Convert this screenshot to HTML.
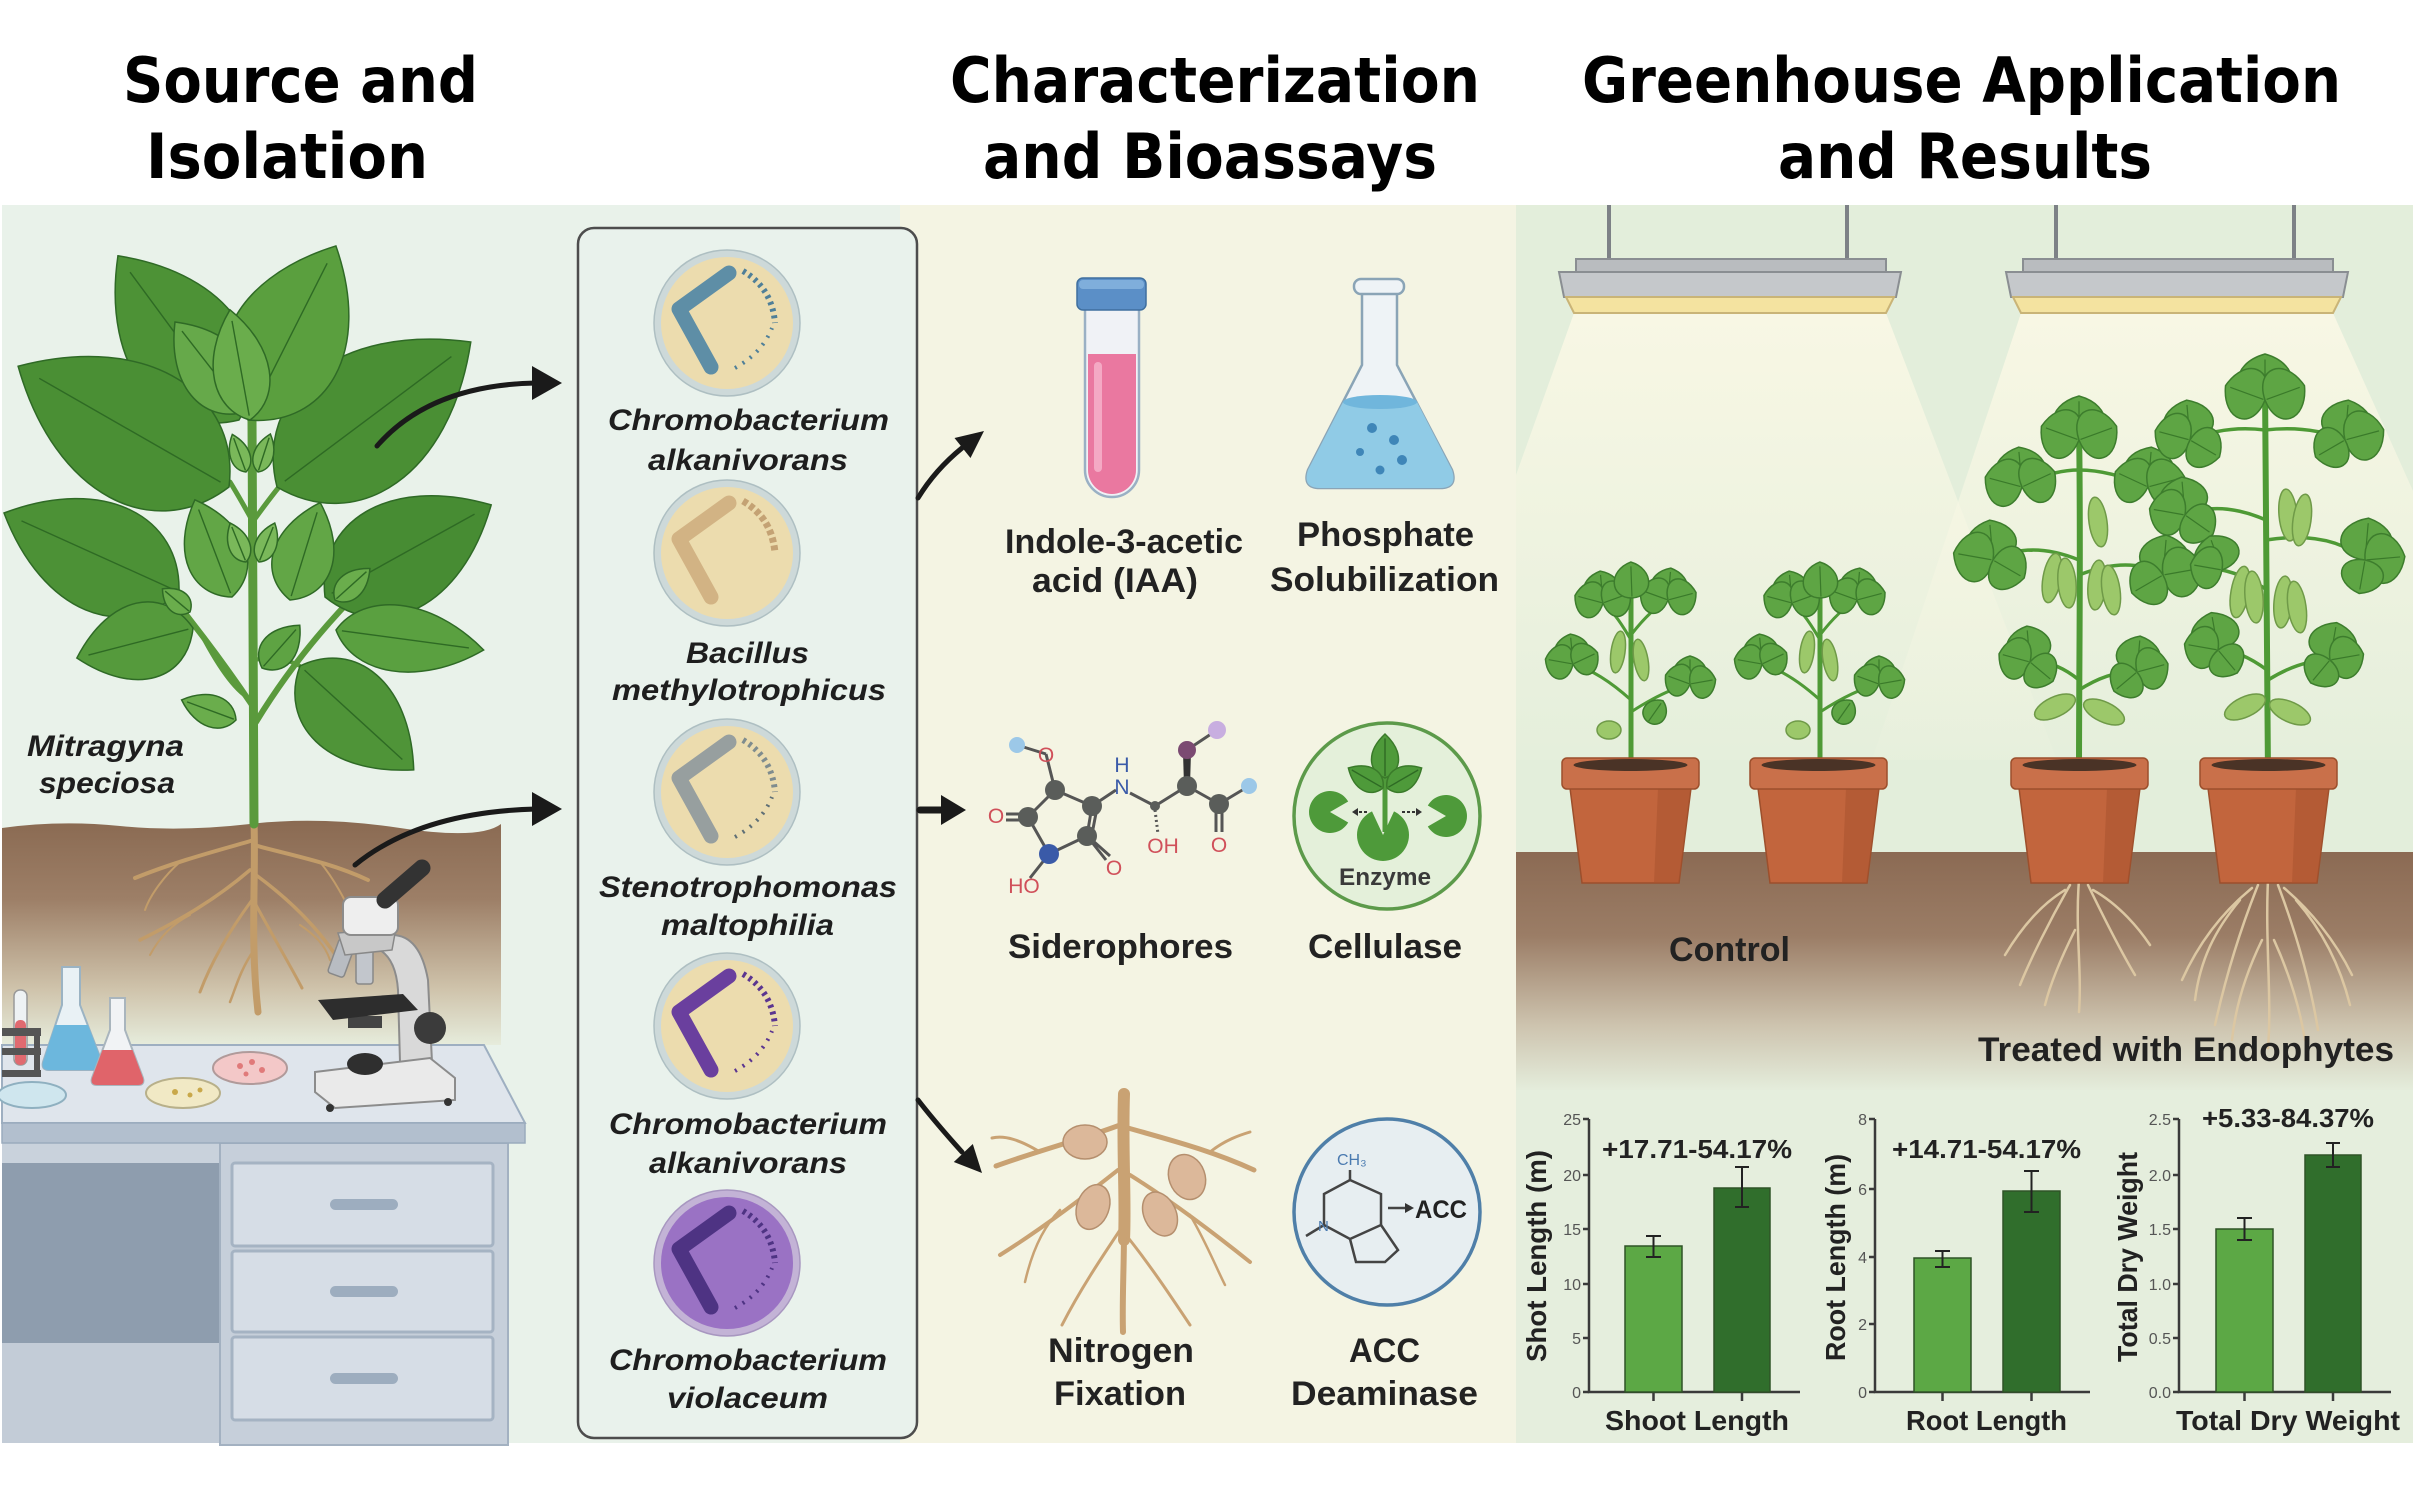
<!DOCTYPE html>
<html><head><meta charset="utf-8">
<style>
html,body{margin:0;padding:0;background:#fff;}
svg{display:block;}
text{font-family:"Liberation Sans",Arial,sans-serif;font-weight:bold;}
</style></head><body>
<svg width="2417" height="1490" viewBox="0 0 2417 1490" xmlns="http://www.w3.org/2000/svg" xmlns:xlink="http://www.w3.org/1999/xlink">
<defs>
 <linearGradient id="soilL" x1="0" y1="0" x2="0" y2="1">
  <stop offset="0" stop-color="#8a6a52"/><stop offset="0.35" stop-color="#9d7f67"/>
  <stop offset="0.75" stop-color="#cfc3ab"/><stop offset="1" stop-color="#e6ecdc"/>
 </linearGradient>
 <linearGradient id="soilR" x1="0" y1="0" x2="0" y2="1">
  <stop offset="0" stop-color="#8b6a53"/><stop offset="0.35" stop-color="#9b7d66"/>
  <stop offset="0.72" stop-color="#cdc3ae"/><stop offset="1" stop-color="#e5eedd"/>
 </linearGradient>
 <linearGradient id="cone" gradientUnits="userSpaceOnUse" x1="0" y1="313" x2="0" y2="800">
  <stop offset="0" stop-color="#f8f7e4" stop-opacity="1"/><stop offset="1" stop-color="#f8f7e4" stop-opacity="0"/>
 </linearGradient>
 <clipPath id="rp"><rect x="1516" y="205" width="897" height="1238"/></clipPath>
 <g id="lf"><path d="M0,0 C0.15,-0.95 0.6,-1.05 1,0 C0.6,1.05 0.15,0.95 0,0Z" vector-effect="non-scaling-stroke" stroke-width="1.5"/><path d="M0.04,0 L0.9,0" fill="none" stroke="#2e6a24" stroke-width="1.4" vector-effect="non-scaling-stroke"/></g>
 <g id="sl"><path d="M0,0 C0.02,-1.25 0.78,-1.3 1,0 C0.78,1.3 0.02,1.25 0,0Z" vector-effect="non-scaling-stroke" stroke-width="1.5"/><path d="M0.04,0 L0.88,0" fill="none" stroke="#3a7a2a" stroke-width="1.2" vector-effect="non-scaling-stroke"/></g>
 <g id="ctrl">
  <g fill="none" stroke="#4f9a36" stroke-linecap="round">
   <path d="M1631,778 L1631,598" stroke-width="5"/>
   <path d="M1631,640 Q1615,612 1603,603" stroke-width="3"/>
   <path d="M1631,635 Q1650,610 1668,600" stroke-width="3"/>
   <path d="M1631,700 Q1600,672 1573,664" stroke-width="3"/>
   <path d="M1631,712 Q1665,690 1690,684" stroke-width="3"/>
  </g>
  <g fill="#5ea544" stroke="#3d7d2d">
   <use xlink:href="#sl" transform="translate(1603,603) rotate(-95) scale(32,19)"/>
   <use xlink:href="#sl" transform="translate(1603,603) rotate(-165) scale(29,19)"/>
   <use xlink:href="#sl" transform="translate(1603,603) rotate(-20) scale(29,19)"/>
   <use xlink:href="#sl" transform="translate(1668,600) rotate(-85) scale(32,19)"/>
   <use xlink:href="#sl" transform="translate(1668,600) rotate(-160) scale(29,19)"/>
   <use xlink:href="#sl" transform="translate(1668,600) rotate(-15) scale(29,19)"/>
   <use xlink:href="#sl" transform="translate(1573,664) rotate(-95) scale(30,18)"/>
   <use xlink:href="#sl" transform="translate(1573,664) rotate(-170) scale(28,18)"/>
   <use xlink:href="#sl" transform="translate(1573,664) rotate(-25) scale(27,17)"/>
   <use xlink:href="#sl" transform="translate(1690,684) rotate(-90) scale(28,17)"/>
   <use xlink:href="#sl" transform="translate(1690,684) rotate(-160) scale(26,17)"/>
   <use xlink:href="#sl" transform="translate(1690,684) rotate(-10) scale(26,17)"/>
   <use xlink:href="#sl" transform="translate(1632,598) rotate(-92) scale(36,18)"/>
   <use xlink:href="#sl" transform="translate(1648,722) rotate(-55) scale(26,12)"/>
  </g>
  <g fill="#9cc86a" stroke="#6f9a48" stroke-width="1.5">
   <ellipse cx="1618" cy="652" rx="7" ry="21" transform="rotate(8 1618 652)"/>
   <ellipse cx="1641" cy="660" rx="7" ry="21" transform="rotate(-10 1641 660)"/>
   <ellipse cx="1609" cy="730" rx="12" ry="9"/>
  </g>
 </g>
 <g id="pot">
  <polygon points="8,30 129,30 117,125 20,125" fill="#c2653d" stroke="#9c4f2c" stroke-width="1.5"/>
  <polygon points="96,30 129,30 117,125 92,125" fill="#a9532f" opacity="0.55"/>
  <rect x="0" y="0" width="137" height="31" rx="5" fill="#c9704a" stroke="#9c4f2c" stroke-width="1.5"/>
  <ellipse cx="68.5" cy="7" rx="57" ry="6" fill="#4a3326"/>
 </g>
</defs>

<rect width="2417" height="1490" fill="#fff"/>

<!-- ===== Titles ===== -->
<g font-family="DejaVu Sans" font-size="62" fill="#000">
 <text x="123" y="102" textLength="355" lengthAdjust="spacingAndGlyphs" style="font-family:'DejaVu Sans',sans-serif">Source and</text>
 <text x="146" y="178" textLength="282" lengthAdjust="spacingAndGlyphs" style="font-family:'DejaVu Sans',sans-serif">Isolation</text>
 <text x="950" y="102" textLength="530" lengthAdjust="spacingAndGlyphs" style="font-family:'DejaVu Sans',sans-serif">Characterization</text>
 <text x="983" y="178" textLength="454" lengthAdjust="spacingAndGlyphs" style="font-family:'DejaVu Sans',sans-serif">and Bioassays</text>
 <text x="1582" y="102" textLength="759" lengthAdjust="spacingAndGlyphs" style="font-family:'DejaVu Sans',sans-serif">Greenhouse Application</text>
 <text x="1778" y="178" textLength="374" lengthAdjust="spacingAndGlyphs" style="font-family:'DejaVu Sans',sans-serif">and Results</text>
</g>

<!-- ===== Panels ===== -->
<rect x="2" y="205" width="900" height="1238" fill="#e9f2ea"/>
<rect x="900" y="205" width="616" height="1238" fill="#f4f4e3"/>
<rect x="1516" y="205" width="897" height="1238" fill="#e3eedb"/>

<!-- ===== LEFT: soil ===== -->
<path d="M2,828 Q60,820 120,826 T250,824 T400,828 T501,824 L501,1045 L2,1045Z" fill="url(#soilL)"/>
<g fill="none" stroke="#c29c69" stroke-linecap="round">
 <path d="M254,822 C256,880 250,940 258,1012" stroke-width="7"/>
 <path d="M254,840 C220,850 180,860 135,878" stroke-width="4"/>
 <path d="M254,845 C290,855 330,862 368,880" stroke-width="4"/>
 <path d="M250,870 C215,900 180,920 140,940" stroke-width="3.5"/>
 <path d="M256,875 C290,900 320,930 340,962" stroke-width="3.5"/>
 <path d="M252,900 C230,930 212,960 200,992" stroke-width="3"/>
 <path d="M256,905 C275,940 290,965 302,988" stroke-width="3"/>
 <path d="M254,950 C240,970 235,990 230,1002" stroke-width="2.5"/>
 <path d="M180,862 C165,875 150,895 145,910" stroke-width="2"/>
 <path d="M320,862 C335,880 345,900 352,915" stroke-width="2"/>
 <path d="M190,915 C170,925 158,940 150,955" stroke-width="2"/>
 <path d="M300,925 C315,935 325,945 330,960" stroke-width="2"/>
</g>

<!-- ===== LEFT: plant ===== -->
<g fill="none" stroke="#5a9a3c" stroke-linecap="round">
 <path d="M254,824 L252,420" stroke-width="9"/>
 <path d="M252,705 Q215,650 168,592" stroke-width="6"/>
 <path d="M256,722 Q300,650 362,588" stroke-width="6"/>
 <path d="M252,520 Q238,495 230,482" stroke-width="5"/>
 <path d="M254,520 Q270,498 279,487" stroke-width="5"/>
 <path d="M253,660 Q280,655 300,666" stroke-width="4"/>
 <path d="M252,700 Q230,690 200,632" stroke-width="4"/>
</g>
<g stroke="#2f6a26">
 <use xlink:href="#lf" fill="#4d9236" transform="translate(239,420) rotate(-126.4) scale(204,77)"/>
 <use xlink:href="#lf" fill="#4a8f34" transform="translate(229,487) rotate(-150.2) scale(243,91)"/>
 <use xlink:href="#lf" fill="#4a8f34" transform="translate(277,487) rotate(-36.8) scale(242,91)"/>
 <use xlink:href="#lf" fill="#5a9f3e" transform="translate(248,420) rotate(-63.2) scale(195,77)"/>
 <use xlink:href="#lf" fill="#4c9136" transform="translate(179,592) rotate(-155.7) scale(192,73)"/>
 <use xlink:href="#lf" fill="#478c33" transform="translate(325,597) rotate(-29) scale(190,73)"/>
 <use xlink:href="#lf" fill="#66a94a" transform="translate(245,412) rotate(-127.9) scale(114,43)"/>
 <use xlink:href="#lf" fill="#6aad4c" transform="translate(250,420) rotate(-100.3) scale(112,37)"/>
 <use xlink:href="#lf" fill="#62a646" transform="translate(232,597) rotate(-110.9) scale(104,40)"/>
 <use xlink:href="#lf" fill="#62a646" transform="translate(290,600) rotate(-72.8) scale(102,40)"/>
 <use xlink:href="#lf" fill="#559a3c" transform="translate(193,628) rotate(165.5) scale(120,51)"/>
 <use xlink:href="#lf" fill="#4f9438" transform="translate(300,666) rotate(42.4) scale(154,60)"/>
 <use xlink:href="#lf" fill="#5aa040" transform="translate(336,630) rotate(7.7) scale(149,44)"/>
 <use xlink:href="#lf" fill="#6aad4c" transform="translate(236,720) rotate(-159.7) scale(58,21)"/>
 <use xlink:href="#lf" fill="#5ea343" transform="translate(262,668) rotate(-48.5) scale(57,23)"/>
 <use xlink:href="#lf" fill="#7ab85a" transform="translate(246,472) rotate(-110) scale(40,13)"/>
 <use xlink:href="#lf" fill="#7ab85a" transform="translate(258,472) rotate(-72) scale(40,13)"/>
 <use xlink:href="#lf" fill="#7ab85a" transform="translate(246,562) rotate(-112) scale(42,14)"/>
 <use xlink:href="#lf" fill="#7ab85a" transform="translate(259,562) rotate(-68) scale(42,14)"/>
 <use xlink:href="#lf" fill="#6aad4c" transform="translate(335,600) rotate(-42) scale(47,17)"/>
 <use xlink:href="#lf" fill="#6aad4c" transform="translate(190,612) rotate(-140) scale(36,15)"/>
</g>
<text x="27" y="756" font-size="30" font-style="italic" fill="#1e1e1e" textLength="157" lengthAdjust="spacingAndGlyphs">Mitragyna</text>
<text x="39" y="793" font-size="30" font-style="italic" fill="#1e1e1e" textLength="136" lengthAdjust="spacingAndGlyphs">speciosa</text>

<!-- ===== LEFT: desk ===== -->
<rect x="2" y="1143" width="506" height="300" fill="#c9d2dc"/>
<rect x="2" y="1163" width="218" height="180" fill="#8e9dae"/>
<rect x="2" y="1343" width="218" height="100" fill="#c3ccd7"/>
<rect x="220" y="1143" width="288" height="302" fill="#c6cfda" stroke="#a3b1c1" stroke-width="2"/>
<g fill="#d6dde6" stroke="#a5b3c3" stroke-width="3">
 <rect x="232" y="1163" width="261" height="83" rx="3"/>
 <rect x="232" y="1251" width="261" height="81" rx="3"/>
 <rect x="232" y="1337" width="261" height="83" rx="3"/>
</g>
<g fill="#9dadbf">
 <rect x="330" y="1199" width="68" height="11" rx="5.5"/>
 <rect x="330" y="1286" width="68" height="11" rx="5.5"/>
 <rect x="330" y="1373" width="68" height="11" rx="5.5"/>
</g>
<polygon points="2,1045 484,1045 525,1123 2,1123" fill="#dfe5ec" stroke="#9eafc1" stroke-width="2"/>
<rect x="2" y="1123" width="523" height="20" fill="#b2bfce" stroke="#9aabbd" stroke-width="1.5"/>

<!-- flasks / rack -->
<g>
 <rect x="14" y="990" width="13" height="75" rx="6" fill="#eef2f4" stroke="#999" stroke-width="1.5"/>
 <rect x="15" y="1020" width="11" height="45" rx="5" fill="#e06a70"/>
 <rect x="2" y="1028" width="39" height="8" fill="#555"/>
 <rect x="2" y="1048" width="39" height="7" fill="#555"/>
 <rect x="34" y="1028" width="6" height="49" fill="#555"/>
 <rect x="2" y="1070" width="39" height="7" fill="#555"/>
 <path d="M62,967 L80,967 L80,1005 L102,1062 Q104,1070 96,1070 L49,1070 Q41,1070 43,1062 L62,1005 Z" fill="#e9f1f5" stroke="#9bb3c3" stroke-width="2"/>
 <path d="M55,1025 L88,1025 L102,1062 Q104,1070 96,1070 L49,1070 Q41,1070 43,1062Z" fill="#6cb7dd"/>
 <path d="M110,998 L125,998 L125,1030 L143,1078 Q145,1085 138,1085 L97,1085 Q90,1085 92,1078 L110,1030Z" fill="#f1f3f5" stroke="#a9b5bd" stroke-width="2"/>
 <path d="M102.5,1050 L132.5,1050 L143,1078 Q145,1085 138,1085 L97,1085 Q90,1085 92,1078Z" fill="#e0646a"/>
 <ellipse cx="32" cy="1095" rx="34" ry="13" fill="#cfe6ee" stroke="#8fb0c0" stroke-width="2"/>
 <ellipse cx="183" cy="1093" rx="37" ry="15" fill="#f1e9c5" stroke="#b8b08a" stroke-width="2"/>
 <ellipse cx="250" cy="1068" rx="37" ry="16" fill="#f3c8c8" stroke="#b09a9a" stroke-width="2"/>
 <g fill="#e07a7a"><circle cx="240" cy="1066" r="3"/><circle cx="252" cy="1062" r="3"/><circle cx="262" cy="1070" r="3"/><circle cx="246" cy="1074" r="2.5"/></g>
 <g fill="#c9a84a"><circle cx="175" cy="1092" r="3"/><circle cx="190" cy="1095" r="2.5"/><circle cx="200" cy="1090" r="2.5"/></g>
</g>
<!-- microscope -->
<g>
 <path d="M392,935 Q420,935 428,980 L432,1062 L400,1062 L398,990 Q396,960 380,950Z" fill="#d9d9d9" stroke="#8c8c8c" stroke-width="2"/>
 <path d="M315,1072 L430,1058 L455,1078 L455,1100 L335,1108 L315,1092Z" fill="#eaeaea" stroke="#8c8c8c" stroke-width="2"/>
 <circle cx="330" cy="1108" r="4" fill="#333"/><circle cx="448" cy="1102" r="4" fill="#333"/>
 <ellipse cx="365" cy="1064" rx="18" ry="11" fill="#2f2f2f"/>
 <circle cx="430" cy="1028" r="16" fill="#3b3b3b"/>
 <rect x="348" y="1016" width="34" height="12" fill="#444"/>
 <polygon points="318,1000 403,994 418,1010 333,1020" fill="#2d2d2d"/>
 <rect x="333" y="940" width="17" height="36" rx="3" fill="#b8bcc2" stroke="#888" stroke-width="1.5" transform="rotate(20 341 958)"/>
 <rect x="356" y="944" width="17" height="40" rx="3" fill="#c2c6cc" stroke="#888" stroke-width="1.5"/>
 <polygon points="338,933 396,928 392,950 345,955" fill="#c8c8c8" stroke="#888" stroke-width="1.5"/>
 <rect x="343" y="897" width="55" height="38" rx="8" fill="#eeeeee" stroke="#8c8c8c" stroke-width="2"/>
 <line x1="385" y1="900" x2="422" y2="868" stroke="#333" stroke-width="17" stroke-linecap="round"/>
</g>

<!-- ===== Isolates box ===== -->
<rect x="578" y="228" width="339" height="1210" rx="16" fill="#e9f2ec" stroke="#4d4d4d" stroke-width="2.5"/>
<g transform="translate(727,323)">
 <circle r="73" fill="#cdd9d9" stroke="#aebfc2" stroke-width="1.5"/><circle r="66" fill="#ecdcae"/>
 <path d="M2,-50 L-48,-14 L-16,44" fill="none" stroke="#5e8ea6" stroke-width="15" stroke-linecap="round" stroke-linejoin="round"/>
 <path d="M16,-52 Q45,-35 48,0" fill="none" stroke="#4f7f98" stroke-width="6" stroke-dasharray="3 4"/>
 <path d="M8,45 Q35,30 45,5" fill="none" stroke="#4f7f98" stroke-width="4" stroke-dasharray="2 7"/>
</g>
<g transform="translate(727,553)">
 <circle r="73" fill="#cdd9d9" stroke="#aebfc2" stroke-width="1.5"/><circle r="66" fill="#ecdcae"/>
 <path d="M2,-50 L-48,-14 L-16,44" fill="none" stroke="#d2b384" stroke-width="15" stroke-linecap="round" stroke-linejoin="round"/>
 <path d="M16,-52 Q45,-35 48,0" fill="none" stroke="#c4a274" stroke-width="7" stroke-dasharray="5 3"/>
</g>
<g transform="translate(727,792)">
 <circle r="73" fill="#cdd9d9" stroke="#aebfc2" stroke-width="1.5"/><circle r="66" fill="#ecdcae"/>
 <path d="M2,-50 L-48,-14 L-16,44" fill="none" stroke="#979f9f" stroke-width="15" stroke-linecap="round" stroke-linejoin="round"/>
 <path d="M16,-52 Q45,-35 48,0" fill="none" stroke="#7f8c8e" stroke-width="6" stroke-dasharray="3 4"/>
 <path d="M8,45 Q35,30 45,5" fill="none" stroke="#5f6f75" stroke-width="4" stroke-dasharray="2 7"/>
</g>
<g transform="translate(727,1026)">
 <circle r="73" fill="#cdd9d9" stroke="#aebfc2" stroke-width="1.5"/><circle r="66" fill="#ecdcae"/>
 <path d="M2,-50 L-48,-14 L-16,44" fill="none" stroke="#6a3f9e" stroke-width="15" stroke-linecap="round" stroke-linejoin="round"/>
 <path d="M16,-52 Q45,-35 48,0" fill="none" stroke="#5b3590" stroke-width="6" stroke-dasharray="3 4"/>
 <path d="M8,45 Q35,30 45,5" fill="none" stroke="#5b3590" stroke-width="4" stroke-dasharray="2 7"/>
</g>
<g transform="translate(727,1263)">
 <circle r="73" fill="#c3b3d6" stroke="#a897c0" stroke-width="1.5"/><circle r="66" fill="#9a72c4"/>
 <path d="M2,-50 L-48,-14 L-16,44" fill="none" stroke="#4e3383" stroke-width="15" stroke-linecap="round" stroke-linejoin="round"/>
 <path d="M16,-52 Q45,-35 48,0" fill="none" stroke="#4e3383" stroke-width="6" stroke-dasharray="3 4"/>
 <path d="M8,45 Q35,30 45,5" fill="none" stroke="#4e3383" stroke-width="4" stroke-dasharray="2 7"/>
</g>
<g font-size="30" font-style="italic" fill="#1e1e1e">
 <text x="608" y="430" textLength="281" lengthAdjust="spacingAndGlyphs">Chromobacterium</text>
 <text x="648" y="470" textLength="200" lengthAdjust="spacingAndGlyphs">alkanivorans</text>
 <text x="686" y="663" textLength="123" lengthAdjust="spacingAndGlyphs">Bacillus</text>
 <text x="612" y="700" textLength="274" lengthAdjust="spacingAndGlyphs">methylotrophicus</text>
 <text x="599" y="897" textLength="298" lengthAdjust="spacingAndGlyphs">Stenotrophomonas</text>
 <text x="661" y="935" textLength="173" lengthAdjust="spacingAndGlyphs">maltophilia</text>
 <text x="609" y="1134" textLength="278" lengthAdjust="spacingAndGlyphs">Chromobacterium</text>
 <text x="649" y="1173" textLength="198" lengthAdjust="spacingAndGlyphs">alkanivorans</text>
 <text x="609" y="1370" textLength="278" lengthAdjust="spacingAndGlyphs">Chromobacterium</text>
 <text x="667" y="1408" textLength="161" lengthAdjust="spacingAndGlyphs">violaceum</text>
</g>

<!-- ===== Arrows ===== -->
<g fill="none" stroke="#1a1a1a" stroke-width="5" stroke-linecap="round">
 <path d="M377,446 Q430,385 536,383"/>
 <path d="M355,865 Q420,812 536,809"/>
 <path d="M918,498 Q935,470 962,448"/>
 <path d="M920,810 L945,810" stroke-width="7"/>
 <path d="M918,1100 Q935,1122 962,1152"/>
</g>
<g fill="#1a1a1a">
 <polygon points="562,383 532,366 532,400"/>
 <polygon points="562,809 532,792 532,826"/>
 <polygon points="984,431 970.5,458 954.5,438"/>
 <polygon points="966,810 941,795 941,825"/>
 <polygon points="982,1173 953.8,1162 972.8,1144"/>
</g>

<!-- ===== MIDDLE: IAA test tube ===== -->
<path d="M1085,309 L1085,470 A27,27 0 0 0 1139,470 L1139,309 Z" fill="#f0f2f6" stroke="#9ab0c4" stroke-width="2.5"/>
<path d="M1088,354 L1088,470 A24,24 0 0 0 1136,470 L1136,354 Z" fill="#ea78a0"/>
<rect x="1094" y="362" width="8" height="110" rx="4" fill="#f4a9c4"/>
<rect x="1077" y="278" width="69" height="32" rx="6" fill="#5b8fc7" stroke="#3f6f9f" stroke-width="1.5"/>
<rect x="1079" y="280" width="65" height="9" rx="4" fill="#7faedb"/>
<!-- flask -->
<path d="M1362,292 L1362,365 L1308,470 Q1302,488 1320,488 L1440,488 Q1458,488 1452,470 L1397,365 L1397,292Z" fill="#eef3f6" stroke="#8aa4b6" stroke-width="2.5"/>
<path d="M1343,402 L1308,470 Q1302,488 1320,488 L1440,488 Q1458,488 1452,470 L1417,402 Z" fill="#90cbe6"/>
<ellipse cx="1380" cy="402" rx="37" ry="7" fill="#70b6dc"/>
<rect x="1354" y="279" width="50" height="15" rx="7" fill="#eef3f6" stroke="#8aa4b6" stroke-width="2.5"/>
<g fill="#3f86b8"><circle cx="1372" cy="428" r="5"/><circle cx="1394" cy="440" r="5"/><circle cx="1360" cy="452" r="4"/><circle cx="1402" cy="460" r="5"/><circle cx="1380" cy="470" r="4.5"/></g>

<!-- siderophore molecule -->
<g stroke="#555" stroke-width="3" fill="none">
 <path d="M1017,745 L1046,754 M1046,754 L1055,790 M1055,790 L1092,806 M1055,790 L1028,817 M1028,817 L1049,854 M1049,854 L1087,836 M1087,836 L1092,806 M1049,854 L1030,878 M1092,806 L1116,790 M1130,793 L1155,806 M1155,806 L1187,786 M1187,786 L1219,804 M1219,804 L1249,786 M1187,750 L1217,730"/>
 <path d="M1028,814 L1006,814 M1028,820 L1006,820 M1087,836 L1106,860 M1092,840 L1110,856 M1216,804 L1216,832 M1222,804 L1222,832 M1097,808 L1092,834"/>
 <path d="M1155,810 L1158,834" stroke-dasharray="2 3"/>
</g>
<polygon points="1184,786 1190,786 1191,752 1183,752" fill="#333"/>
<g fill="#5a5d5a"><circle cx="1055" cy="790" r="10"/><circle cx="1092" cy="806" r="10"/><circle cx="1028" cy="817" r="10"/><circle cx="1087" cy="836" r="10"/><circle cx="1187" cy="786" r="10"/><circle cx="1219" cy="804" r="10"/><circle cx="1155" cy="806" r="5"/></g>
<circle cx="1049" cy="854" r="10" fill="#3a5aa8"/>
<circle cx="1017" cy="745" r="8" fill="#9cc8e8"/><circle cx="1249" cy="786" r="8" fill="#9cc8e8"/>
<circle cx="1187" cy="750" r="9" fill="#7b4a72"/><circle cx="1217" cy="730" r="9" fill="#c8aee0"/>
<g font-size="21" fill="#d0505a" text-anchor="middle">
 <text x="1046" y="762" style="font-weight:normal">O</text>
 <text x="996" y="823" style="font-weight:normal">O</text>
 <text x="1114" y="875" style="font-weight:normal">O</text>
 <text x="1024" y="893" style="font-weight:normal">HO</text>
 <text x="1163" y="853" style="font-weight:normal">OH</text>
 <text x="1219" y="852" style="font-weight:normal">O</text>
 <text x="1122" y="794" fill="#3a5aa8" style="font-weight:normal">N</text>
 <text x="1122" y="772" fill="#3a5aa8" style="font-weight:normal">H</text>
</g>

<!-- cellulase -->
<circle cx="1387" cy="816" r="93" fill="#e4f0da" stroke="#5c9a4a" stroke-width="3.5"/>
<path d="M1385,832 L1385,772" stroke="#4f9a3a" stroke-width="5" fill="none"/>
<g fill="#4e9a3a" stroke="#3a7a2a">
 <use xlink:href="#lf" transform="translate(1385,778) rotate(-90) scale(44,18)"/>
 <use xlink:href="#lf" transform="translate(1383,788) rotate(-150) scale(40,16)"/>
 <use xlink:href="#lf" transform="translate(1387,788) rotate(-30) scale(40,16)"/>
</g>
<g fill="#4e9a3a">
 <path d="M1383,835 L1372,811.4 A26,26 0 1 0 1394,811.4 Z"/>
 <path d="M1330,812 L1348.2,801.5 A21,21 0 1 0 1348.2,822.5 Z"/>
 <path d="M1446,816 L1427.8,805.5 A21,21 0 1 1 1427.8,826.5 Z"/>
</g>
<g stroke="#333" stroke-width="2" fill="#333">
 <line x1="1354" y1="812" x2="1368" y2="812" stroke-dasharray="3 2"/>
 <polygon points="1352,812 1358,808 1358,816" stroke="none"/>
 <line x1="1402" y1="812" x2="1418" y2="812" stroke-dasharray="3 2"/>
 <polygon points="1422,812 1416,808 1416,816" stroke="none"/>
</g>
<text x="1339" y="885" font-size="24" fill="#3a3a3a" textLength="92" lengthAdjust="spacingAndGlyphs">Enzyme</text>

<!-- nitrogen fixation roots -->
<g fill="none" stroke="#c9a273" stroke-linecap="round">
 <path d="M1124,1094 C1122,1150 1126,1200 1124,1240" stroke-width="12"/>
 <path d="M1124,1230 C1124,1270 1122,1300 1123,1332" stroke-width="6"/>
 <path d="M1120,1125 C1080,1140 1040,1150 996,1166" stroke-width="5"/>
 <path d="M1040,1152 C1020,1140 1005,1135 992,1138" stroke-width="3"/>
 <path d="M1128,1128 C1170,1140 1210,1150 1254,1170" stroke-width="5"/>
 <path d="M1210,1152 C1225,1140 1240,1135 1250,1132" stroke-width="3"/>
 <path d="M1118,1170 C1080,1200 1040,1230 1000,1255" stroke-width="4"/>
 <path d="M1130,1175 C1170,1200 1210,1230 1250,1262" stroke-width="4"/>
 <path d="M1120,1230 C1100,1260 1080,1290 1062,1325" stroke-width="3"/>
 <path d="M1126,1235 C1150,1265 1170,1295 1190,1325" stroke-width="3"/>
 <path d="M1060,1210 C1040,1230 1030,1260 1025,1282" stroke-width="2.5"/>
 <path d="M1190,1215 C1205,1240 1215,1265 1225,1285" stroke-width="2.5"/>
</g>
<g fill="#dcb89a" stroke="#b58f6e" stroke-width="1.5">
 <ellipse cx="1085" cy="1142" rx="22" ry="17"/>
 <ellipse cx="1187" cy="1177" rx="18" ry="23" transform="rotate(-20 1187 1177)"/>
 <ellipse cx="1093" cy="1207" rx="16" ry="23" transform="rotate(20 1093 1207)"/>
 <ellipse cx="1160" cy="1214" rx="16" ry="23" transform="rotate(-25 1160 1214)"/>
</g>

<!-- ACC deaminase -->
<circle cx="1387" cy="1212" r="93" fill="#e7eef1" stroke="#4f7fa8" stroke-width="3.5"/>
<g fill="none" stroke="#444" stroke-width="2.5">
 <path d="M1350,1180 L1381,1194 L1381,1225 L1350,1239 L1324,1225 L1324,1194 Z"/>
 <path d="M1350,1180 L1350,1170"/>
 <path d="M1324,1225 L1306,1236"/>
 <path d="M1381,1225 L1398,1250 L1385,1262 L1356,1262 L1350,1239"/>
 <path d="M1388,1208 L1408,1208"/>
</g>
<polygon points="1414,1208 1405,1203 1405,1213" fill="#333"/>
<text x="1337" y="1165" font-size="16" fill="#4a7ab0" style="font-weight:normal">CH₃</text>
<text x="1318" y="1231" font-size="15" fill="#4a7ab0" style="font-weight:normal">N</text>
<text x="1415" y="1218" font-size="25" fill="#222" textLength="52" lengthAdjust="spacingAndGlyphs">ACC</text>

<!-- middle labels -->
<g font-size="34" fill="#222">
 <text x="1005" y="553" textLength="238" lengthAdjust="spacingAndGlyphs">Indole-3-acetic</text>
 <text x="1032" y="592" textLength="166" lengthAdjust="spacingAndGlyphs">acid (IAA)</text>
 <text x="1297" y="546" textLength="177" lengthAdjust="spacingAndGlyphs">Phosphate</text>
 <text x="1270" y="591" textLength="229" lengthAdjust="spacingAndGlyphs">Solubilization</text>
 <text x="1008" y="958" textLength="225" lengthAdjust="spacingAndGlyphs">Siderophores</text>
 <text x="1308" y="958" textLength="154" lengthAdjust="spacingAndGlyphs">Cellulase</text>
 <text x="1048" y="1362" textLength="146" lengthAdjust="spacingAndGlyphs">Nitrogen</text>
 <text x="1054" y="1405" textLength="132" lengthAdjust="spacingAndGlyphs">Fixation</text>
 <text x="1349" y="1362" textLength="71" lengthAdjust="spacingAndGlyphs">ACC</text>
 <text x="1291" y="1405" textLength="187" lengthAdjust="spacingAndGlyphs">Deaminase</text>
</g>

<!-- ===== RIGHT panel ===== -->
<g clip-path="url(#rp)">
 <polygon points="1574,313 1886,313 2057,760 1414,760" fill="url(#cone)"/>
 <polygon points="2021,313 2333,313 2534,760 1872,760" fill="url(#cone)"/>
</g>
<g stroke="#7d8186" stroke-width="4">
 <line x1="1609" y1="205" x2="1609" y2="260"/><line x1="1847" y1="205" x2="1847" y2="260"/>
 <line x1="2056" y1="205" x2="2056" y2="260"/><line x1="2294" y1="205" x2="2294" y2="260"/>
</g>
<g stroke="#8a8e92" stroke-width="2">
 <rect x="1576" y="259" width="310" height="13" fill="#b9bcbf"/>
 <polygon points="1559,272 1901,272 1896,297 1564,297" fill="#c5c8cb"/>
 <polygon points="1566,297 1894,297 1886,313 1574,313" fill="#f4e3a0" stroke="#c9b477"/>
 <rect x="2023" y="259" width="310" height="13" fill="#b9bcbf"/>
 <polygon points="2006,272 2348,272 2343,297 2011,297" fill="#c5c8cb"/>
 <polygon points="2013,297 2341,297 2333,313 2021,313" fill="#f4e3a0" stroke="#c9b477"/>
</g>

<rect x="1516" y="852" width="897" height="240" fill="url(#soilR)"/>
<rect x="1516" y="1090" width="897" height="353" fill="#e5eedd"/>

<g fill="none" stroke="#dcc7a2" stroke-linecap="round" stroke-width="2.5">
 <path d="M2079,880 C2075,930 2082,970 2079,1012"/>
 <path d="M2070,885 C2050,920 2030,960 2020,985"/>
 <path d="M2088,885 C2105,920 2120,950 2135,975"/>
 <path d="M2065,890 C2040,905 2020,930 2005,955"/>
 <path d="M2093,890 C2120,905 2140,930 2150,945"/>
 <path d="M2075,930 C2060,960 2050,985 2045,1005"/>
 <path d="M2268,880 C2265,940 2272,1000 2268,1048"/>
 <path d="M2258,885 C2240,930 2225,980 2215,1025"/>
 <path d="M2278,885 C2295,930 2310,980 2318,1030"/>
 <path d="M2252,888 C2225,910 2200,940 2182,980"/>
 <path d="M2284,888 C2310,910 2335,940 2352,975"/>
 <path d="M2262,940 C2245,975 2235,1010 2232,1040"/>
 <path d="M2274,940 C2290,975 2300,1010 2305,1040"/>
 <path d="M2240,900 C2215,930 2200,960 2195,1000"/>
 <path d="M2296,900 C2322,930 2340,965 2350,1005"/>
</g>

<use xlink:href="#ctrl"/>
<use xlink:href="#ctrl" transform="translate(189,0)"/>

<!-- treated plant 3 -->
<g fill="none" stroke="#4e9a35" stroke-linecap="round">
 <path d="M2079,778 C2079,650 2081,550 2079,425" stroke-width="6"/>
 <path d="M2079,470 Q2050,470 2022,487" stroke-width="3.5"/>
 <path d="M2079,470 Q2110,470 2148,487" stroke-width="3.5"/>
 <path d="M2079,560 Q2030,540 1993,560" stroke-width="3.5"/>
 <path d="M2079,575 Q2130,555 2163,575" stroke-width="3.5"/>
 <path d="M2079,680 Q2055,660 2030,662" stroke-width="3.5"/>
 <path d="M2079,690 Q2110,670 2137,672" stroke-width="3.5"/>
</g>
<g fill="#5ea544" stroke="#3d7d2d">
 <use xlink:href="#sl" transform="translate(2079,440) rotate(-90) scale(44,27)"/>
 <use xlink:href="#sl" transform="translate(2079,440) rotate(-160) scale(40,26)"/>
 <use xlink:href="#sl" transform="translate(2079,440) rotate(-20) scale(40,26)"/>
 <use xlink:href="#sl" transform="translate(2022,487) rotate(-95) scale(40,26)"/>
 <use xlink:href="#sl" transform="translate(2022,487) rotate(-165) scale(38,25)"/>
 <use xlink:href="#sl" transform="translate(2022,487) rotate(-25) scale(36,24)"/>
 <use xlink:href="#sl" transform="translate(2148,487) rotate(-85) scale(40,26)"/>
 <use xlink:href="#sl" transform="translate(2148,487) rotate(-155) scale(36,24)"/>
 <use xlink:href="#sl" transform="translate(2148,487) rotate(-15) scale(38,25)"/>
 <use xlink:href="#sl" transform="translate(1993,560) rotate(-95) scale(40,26)"/>
 <use xlink:href="#sl" transform="translate(1993,560) rotate(-170) scale(40,26)"/>
 <use xlink:href="#sl" transform="translate(1993,560) rotate(30) scale(36,24)"/>
 <use xlink:href="#sl" transform="translate(2163,575) rotate(-85) scale(40,26)"/>
 <use xlink:href="#sl" transform="translate(2163,575) rotate(-10) scale(40,26)"/>
 <use xlink:href="#sl" transform="translate(2163,575) rotate(150) scale(36,24)"/>
 <use xlink:href="#sl" transform="translate(2030,662) rotate(-95) scale(36,23)"/>
 <use xlink:href="#sl" transform="translate(2030,662) rotate(-165) scale(32,22)"/>
 <use xlink:href="#sl" transform="translate(2030,662) rotate(40) scale(30,20)"/>
 <use xlink:href="#sl" transform="translate(2137,672) rotate(-85) scale(36,23)"/>
 <use xlink:href="#sl" transform="translate(2137,672) rotate(-15) scale(32,22)"/>
 <use xlink:href="#sl" transform="translate(2137,672) rotate(140) scale(30,20)"/>
</g>
<!-- treated plant 4 -->
<g fill="none" stroke="#4e9a35" stroke-linecap="round">
 <path d="M2268,778 C2268,650 2266,520 2265,385" stroke-width="6"/>
 <path d="M2265,430 Q2225,425 2190,440" stroke-width="3.5"/>
 <path d="M2265,430 Q2310,425 2345,440" stroke-width="3.5"/>
 <path d="M2266,520 Q2220,500 2185,515" stroke-width="3.5"/>
 <path d="M2266,540 Q2330,530 2365,560" stroke-width="3.5"/>
 <path d="M2267,590 Q2245,575 2222,570" stroke-width="3.5"/>
 <path d="M2267,670 Q2240,650 2218,650" stroke-width="3.5"/>
 <path d="M2268,680 Q2300,660 2330,660" stroke-width="3.5"/>
</g>
<g fill="#5ea544" stroke="#3d7d2d">
 <use xlink:href="#sl" transform="translate(2265,400) rotate(-90) scale(46,28)"/>
 <use xlink:href="#sl" transform="translate(2265,400) rotate(-160) scale(42,27)"/>
 <use xlink:href="#sl" transform="translate(2265,400) rotate(-20) scale(42,27)"/>
 <use xlink:href="#sl" transform="translate(2190,440) rotate(-95) scale(40,26)"/>
 <use xlink:href="#sl" transform="translate(2190,440) rotate(-165) scale(36,24)"/>
 <use xlink:href="#sl" transform="translate(2190,440) rotate(30) scale(34,22)"/>
 <use xlink:href="#sl" transform="translate(2345,440) rotate(-85) scale(40,26)"/>
 <use xlink:href="#sl" transform="translate(2345,440) rotate(-15) scale(40,26)"/>
 <use xlink:href="#sl" transform="translate(2345,440) rotate(150) scale(34,22)"/>
 <use xlink:href="#sl" transform="translate(2185,515) rotate(-95) scale(38,25)"/>
 <use xlink:href="#sl" transform="translate(2185,515) rotate(-170) scale(36,24)"/>
 <use xlink:href="#sl" transform="translate(2185,515) rotate(35) scale(34,22)"/>
 <use xlink:href="#sl" transform="translate(2365,560) rotate(-85) scale(42,27)"/>
 <use xlink:href="#sl" transform="translate(2365,560) rotate(-5) scale(40,26)"/>
 <use xlink:href="#sl" transform="translate(2365,560) rotate(100) scale(34,22)"/>
 <use xlink:href="#sl" transform="translate(2222,570) rotate(-110) scale(36,24)"/>
 <use xlink:href="#sl" transform="translate(2222,570) rotate(-170) scale(32,22)"/>
 <use xlink:href="#sl" transform="translate(2218,650) rotate(-100) scale(38,25)"/>
 <use xlink:href="#sl" transform="translate(2218,650) rotate(-170) scale(34,22)"/>
 <use xlink:href="#sl" transform="translate(2218,650) rotate(50) scale(30,20)"/>
 <use xlink:href="#sl" transform="translate(2330,660) rotate(-80) scale(38,25)"/>
 <use xlink:href="#sl" transform="translate(2330,660) rotate(-10) scale(34,22)"/>
 <use xlink:href="#sl" transform="translate(2330,660) rotate(130) scale(30,20)"/>
</g>
<g fill="#9cc86a" stroke="#6f9a48" stroke-width="1.5">
 <ellipse cx="2098" cy="522" rx="9" ry="25" transform="rotate(-8 2098 522)"/>
 <ellipse cx="2052" cy="578" rx="9" ry="25" transform="rotate(10 2052 578)"/>
 <ellipse cx="2067" cy="583" rx="9" ry="25" transform="rotate(-5 2067 583)"/>
 <ellipse cx="2097" cy="585" rx="9" ry="25" transform="rotate(5 2097 585)"/>
 <ellipse cx="2111" cy="590" rx="9" ry="25" transform="rotate(-8 2111 590)"/>
 <ellipse cx="2055" cy="707" rx="22" ry="10" transform="rotate(-25 2055 707)"/>
 <ellipse cx="2104" cy="712" rx="22" ry="10" transform="rotate(25 2104 712)"/>
 <ellipse cx="2288" cy="515" rx="9" ry="26" transform="rotate(-5 2288 515)"/>
 <ellipse cx="2302" cy="520" rx="9" ry="26" transform="rotate(8 2302 520)"/>
 <ellipse cx="2240" cy="592" rx="9" ry="26" transform="rotate(10 2240 592)"/>
 <ellipse cx="2254" cy="597" rx="9" ry="26" transform="rotate(-5 2254 597)"/>
 <ellipse cx="2283" cy="602" rx="9" ry="26" transform="rotate(5 2283 602)"/>
 <ellipse cx="2297" cy="607" rx="9" ry="26" transform="rotate(-8 2297 607)"/>
 <ellipse cx="2245" cy="707" rx="22" ry="10" transform="rotate(-25 2245 707)"/>
 <ellipse cx="2290" cy="712" rx="22" ry="10" transform="rotate(25 2290 712)"/>
</g>

<use xlink:href="#pot" transform="translate(1562,758)"/>
<use xlink:href="#pot" transform="translate(1750,758)"/>
<use xlink:href="#pot" transform="translate(2011,758)"/>
<use xlink:href="#pot" transform="translate(2200,758)"/>

<text x="1669" y="961" font-size="34" fill="#222" textLength="121" lengthAdjust="spacingAndGlyphs">Control</text>
<text x="1978" y="1061" font-size="34" fill="#222" textLength="416" lengthAdjust="spacingAndGlyphs">Treated with Endophytes</text>

<!-- ===== charts ===== -->
<g stroke="#3a3a3a" stroke-width="2.5" fill="none">
 <path d="M1589,1119 L1589,1392 L1800,1392"/>
 <path d="M1583,1119H1589 M1583,1175H1589 M1583,1229H1589 M1583,1284H1589 M1583,1338H1589 M1583,1392H1589 M1653.5,1392V1401 M1742,1392V1401"/>
 <path d="M1875,1119 L1875,1392 L2090,1392"/>
 <path d="M1869,1119H1875 M1869,1189H1875 M1869,1257H1875 M1869,1324H1875 M1869,1392H1875 M1942.5,1392V1401 M2031.5,1392V1401"/>
 <path d="M2179,1119 L2179,1392 L2391,1392"/>
 <path d="M2173,1119H2179 M2173,1175H2179 M2173,1229H2179 M2173,1284H2179 M2173,1338H2179 M2173,1392H2179 M2244.5,1392V1401 M2333,1392V1401"/>
</g>
<g stroke="#2f5326" stroke-width="1.5">
 <rect x="1625" y="1246" width="57" height="146" fill="#5ca845"/>
 <rect x="1714" y="1188" width="56" height="204" fill="#306e2c"/>
 <rect x="1914" y="1258" width="57" height="134" fill="#5ca845"/>
 <rect x="2003" y="1191" width="57" height="201" fill="#306e2c"/>
 <rect x="2216" y="1229" width="57" height="163" fill="#5ca845"/>
 <rect x="2305" y="1155" width="56" height="237" fill="#306e2c"/>
</g>
<g stroke="#222" stroke-width="2" fill="none">
 <path d="M1653.5,1236V1257 M1646,1236H1661 M1646,1257H1661"/>
 <path d="M1742,1167V1207 M1735,1167H1749 M1735,1207H1749"/>
 <path d="M1942.5,1251V1267 M1935,1251H1950 M1935,1267H1950"/>
 <path d="M2031.5,1171V1212 M2024,1171H2039 M2024,1212H2039"/>
 <path d="M2244.5,1218V1240 M2237,1218H2252 M2237,1240H2252"/>
 <path d="M2333,1143V1167 M2326,1143H2340 M2326,1167H2340"/>
</g>
<g font-size="16" fill="#555" text-anchor="end">
 <text x="1581" y="1125" style="font-weight:normal">25</text><text x="1581" y="1181" style="font-weight:normal">20</text>
 <text x="1581" y="1235" style="font-weight:normal">15</text><text x="1581" y="1290" style="font-weight:normal">10</text>
 <text x="1581" y="1344" style="font-weight:normal">5</text><text x="1581" y="1398" style="font-weight:normal">0</text>
 <text x="1867" y="1125" style="font-weight:normal">8</text><text x="1867" y="1195" style="font-weight:normal">6</text>
 <text x="1867" y="1263" style="font-weight:normal">4</text><text x="1867" y="1330" style="font-weight:normal">2</text>
 <text x="1867" y="1398" style="font-weight:normal">0</text>
 <text x="2171" y="1125" style="font-weight:normal">2.5</text><text x="2171" y="1181" style="font-weight:normal">2.0</text>
 <text x="2171" y="1235" style="font-weight:normal">1.5</text><text x="2171" y="1290" style="font-weight:normal">1.0</text>
 <text x="2171" y="1344" style="font-weight:normal">0.5</text><text x="2171" y="1398" style="font-weight:normal">0.0</text>
</g>
<g font-size="26" fill="#222">
 <text x="1602" y="1158" textLength="190" lengthAdjust="spacingAndGlyphs">+17.71-54.17%</text>
 <text x="1892" y="1158" textLength="189" lengthAdjust="spacingAndGlyphs">+14.71-54.17%</text>
 <text x="2202" y="1127" textLength="172" lengthAdjust="spacingAndGlyphs">+5.33-84.37%</text>
</g>
<g font-size="28" fill="#222">
 <text x="1605" y="1430" textLength="184" lengthAdjust="spacingAndGlyphs">Shoot Length</text>
 <text x="1906" y="1430" textLength="161" lengthAdjust="spacingAndGlyphs">Root Length</text>
 <text x="2176" y="1430" textLength="224" lengthAdjust="spacingAndGlyphs">Total Dry Weight</text>
 <text transform="translate(1546,1256) rotate(-90)" x="-106" y="0" textLength="212" lengthAdjust="spacingAndGlyphs">Shot Length (m)</text>
 <text transform="translate(1845,1257) rotate(-90)" x="-104" y="0" textLength="207" lengthAdjust="spacingAndGlyphs">Root Length (m)</text>
 <text transform="translate(2137,1257) rotate(-90)" x="-105" y="0" textLength="210" lengthAdjust="spacingAndGlyphs">Total Dry Weight</text>
</g>
</svg>
</body></html>
